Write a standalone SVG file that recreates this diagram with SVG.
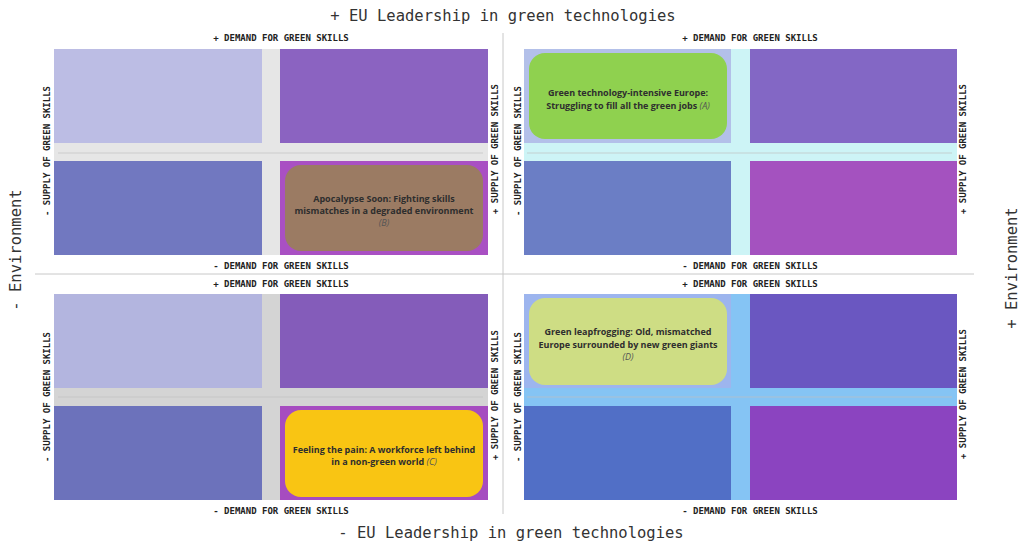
<svg xmlns="http://www.w3.org/2000/svg" width="1025" height="545" viewBox="0 0 1025 545">
<style>
.title{font-family:"DejaVu Sans Mono","Liberation Mono",monospace;font-size:15.5px;fill:#333;text-anchor:middle}
.ax{font-family:"DejaVu Sans Mono","Liberation Mono",monospace;font-size:9px;font-weight:bold;fill:#222;text-anchor:middle}
.bx{font-family:"Open Sans","Noto Sans",sans-serif;font-size:9px;font-weight:bold;fill:#2e2e2e;text-anchor:middle}
.it{font-family:"Open Sans","Noto Sans",sans-serif;font-size:9px;font-style:italic;font-weight:normal;fill:#555}
.main{stroke:#c8c8c8;stroke-width:1}
.thin{stroke:#c0c0c0;stroke-width:0.7}
</style>
<rect width="1025" height="545" fill="#ffffff"/>
<g id="connectors">
<line class="main" x1="35" y1="274" x2="974" y2="274"/>
<line class="main" x1="503" y1="33" x2="503" y2="514"/>
</g>
<text class="title" x="503" y="21">+ EU Leadership in green technologies</text>
<text class="title" x="511" y="538">- EU Leadership in green technologies</text>
<text class="title" transform="translate(21,250) rotate(-90)">- Environment</text>
<text class="title" transform="translate(1017,268) rotate(-90)">+ Environment</text>

<g id="quadrant-tl">
<rect x="54" y="49" width="434" height="206" fill="#e6e6e6"/>
<rect x="54" y="49" width="208" height="94" fill="#bcbde4"/>
<rect x="280" y="49" width="208" height="94" fill="#8b63c1"/>
<rect x="54" y="161" width="208" height="94" fill="#7178c0"/>
<rect x="280" y="161" width="208" height="94" fill="#a950c3"/>
<line class="thin" x1="58" y1="153" x2="483" y2="153"/>
<text class="ax" x="281" y="41">+ DEMAND FOR GREEN SKILLS</text>
<text class="ax" x="281" y="269">- DEMAND FOR GREEN SKILLS</text>
<text class="ax" transform="translate(50,151) rotate(-90)">- SUPPLY OF GREEN SKILLS</text>
<text class="ax" transform="translate(498,149) rotate(-90)">+ SUPPLY OF GREEN SKILLS</text>
</g>
<g id="scenario-b">
<rect x="285" y="165" width="198" height="86" rx="16" fill="#9b7b63"/>
<text class="bx" x="384" y="202">Apocalypse Soon: Fighting skills</text>
<text class="bx" x="384" y="214">mismatches in a degraded environment</text>
<text class="it" x="384" y="226" text-anchor="middle">(B)</text>
</g>

<g id="quadrant-tr">
<rect x="524" y="49" width="433" height="206" fill="#cdf4f6"/>
<rect x="524" y="49" width="207" height="94" fill="#b3c0e9"/>
<rect x="750" y="49" width="207" height="94" fill="#8367c5"/>
<rect x="524" y="161" width="207" height="94" fill="#6b7ec5"/>
<rect x="750" y="161" width="207" height="94" fill="#a452bf"/>
<line class="thin" x1="527" y1="153" x2="952" y2="153" stroke="#a9c9cc"/>
<text class="ax" x="750" y="41">+ DEMAND FOR GREEN SKILLS</text>
<text class="ax" x="750" y="269">- DEMAND FOR GREEN SKILLS</text>
<text class="ax" transform="translate(521,151) rotate(-90)">- SUPPLY OF GREEN SKILLS</text>
<text class="ax" transform="translate(966,149) rotate(-90)">+ SUPPLY OF GREEN SKILLS</text>
</g>
<g id="scenario-a">
<rect x="529" y="53" width="198" height="86" rx="16" fill="#8fd14f"/>
<text class="bx" x="628" y="96">Green technology-intensive Europe:</text>
<text class="bx" x="628" y="109">Struggling to fill all the green jobs <tspan class="it">(A)</tspan></text>
</g>

<g id="quadrant-bl">
<rect x="54" y="294" width="434" height="206" fill="#d4d4d4"/>
<rect x="54" y="294" width="208" height="94" fill="#b3b5df"/>
<rect x="280" y="294" width="208" height="94" fill="#845cba"/>
<rect x="54" y="406" width="208" height="94" fill="#6c72bb"/>
<rect x="280" y="406" width="208" height="94" fill="#a64cc0"/>
<line class="thin" x1="58" y1="397" x2="483" y2="397" stroke="#b0b0b0"/>
<text class="ax" x="281" y="287">+ DEMAND FOR GREEN SKILLS</text>
<text class="ax" x="281" y="514">- DEMAND FOR GREEN SKILLS</text>
<text class="ax" transform="translate(50,397) rotate(-90)">- SUPPLY OF GREEN SKILLS</text>
<text class="ax" transform="translate(498,395) rotate(-90)">+ SUPPLY OF GREEN SKILLS</text>
</g>
<g id="scenario-c">
<rect x="285" y="410" width="198" height="87" rx="16" fill="#f9c513"/>
<text class="bx" x="384" y="453">Feeling the pain: A workforce left behind</text>
<text class="bx" x="384" y="465">in a non-green world <tspan class="it">(C)</tspan></text>
</g>

<g id="quadrant-br">
<rect x="524" y="294" width="433" height="206" fill="#85c4f4"/>
<rect x="524" y="294" width="207" height="94" fill="#9db5ee"/>
<rect x="750" y="294" width="207" height="94" fill="#6a57c1"/>
<rect x="524" y="406" width="207" height="94" fill="#516fc6"/>
<rect x="750" y="406" width="207" height="94" fill="#8b44c0"/>
<line class="thin" x1="527" y1="397" x2="952" y2="397" stroke="#6fa6d6"/>
<text class="ax" x="750" y="287">+ DEMAND FOR GREEN SKILLS</text>
<text class="ax" x="750" y="514">- DEMAND FOR GREEN SKILLS</text>
<text class="ax" transform="translate(521,397) rotate(-90)">- SUPPLY OF GREEN SKILLS</text>
<text class="ax" transform="translate(966,394) rotate(-90)">+ SUPPLY OF GREEN SKILLS</text>
</g>
<g id="scenario-d">
<rect x="529" y="298" width="198" height="87" rx="16" fill="#cedd84"/>
<text class="bx" x="628" y="335">Green leapfrogging: Old, mismatched</text>
<text class="bx" x="628" y="348">Europe surrounded by new green giants</text>
<text class="it" x="628" y="360" text-anchor="middle">(D)</text>
</g>
</svg>
